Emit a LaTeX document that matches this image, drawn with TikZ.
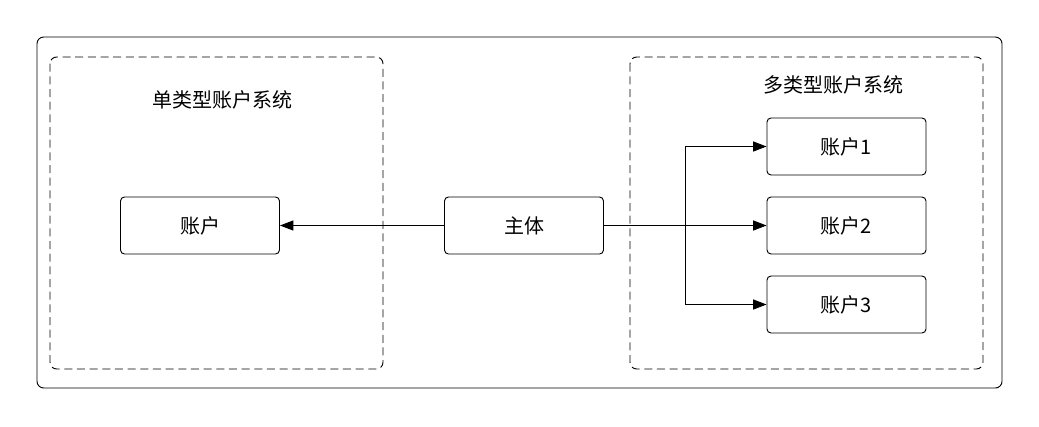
\documentclass[tikz,border=0pt]{standalone}
\usepackage{fontspec}
\setmainfont{Noto Sans CJK SC}
\usetikzlibrary{arrows.meta}
\tikzset{
  acct/.style={draw, rounded corners=3pt, minimum width=119.25pt, minimum height=42.75pt, inner sep=0pt, line width=0.7pt, font=\fontsize{15}{17}\selectfont},
  grp/.style={draw, dash pattern=on 6pt off 3.5pt, rounded corners=5pt, line width=0.7pt},
  link/.style={-{Triangle[length=10pt,width=7.5pt]}, line width=0.7pt}
}
\begin{document}
\begin{tikzpicture}[x=0.75pt,y=0.75pt,yscale=-1,xscale=1]
\useasboundingbox (0,0) rectangle (1039,426);

%Outer frame
\draw [rounded corners=5pt, line width=0.7pt] (37,37) rectangle (1002,388);
%Dashed groups
\draw [grp] (50,57) rectangle (383,369);
\draw [grp] (630,57) rectangle (983,369);

% Text Node
\node (single) at (222,100) {\fontsize{15}{17}\selectfont 单类型账户系统};
\node (multi) at (833,85) {\fontsize{15}{17}\selectfont 多类型账户系统};

%Boxes
\node [acct] (acc) at (200,225.5) {账户};
\node [acct] (subj) at (524,225.5) {主体};
\node [acct] (acc1) at (846.5,146.5) {账户1};
\node [acct] (acc2) at (846.5,225.5) {账户2};
\node [acct] (acc3) at (846.5,304.5) {账户3};

%Connectors
\coordinate (fork) at (685,225.5);
\draw [link] (subj) -- (acc);
\draw [link] (subj) -- (acc2);
\draw [link] (fork) |- (acc1);
\draw [link] (fork) |- (acc3);
\end{tikzpicture}
\end{document}
